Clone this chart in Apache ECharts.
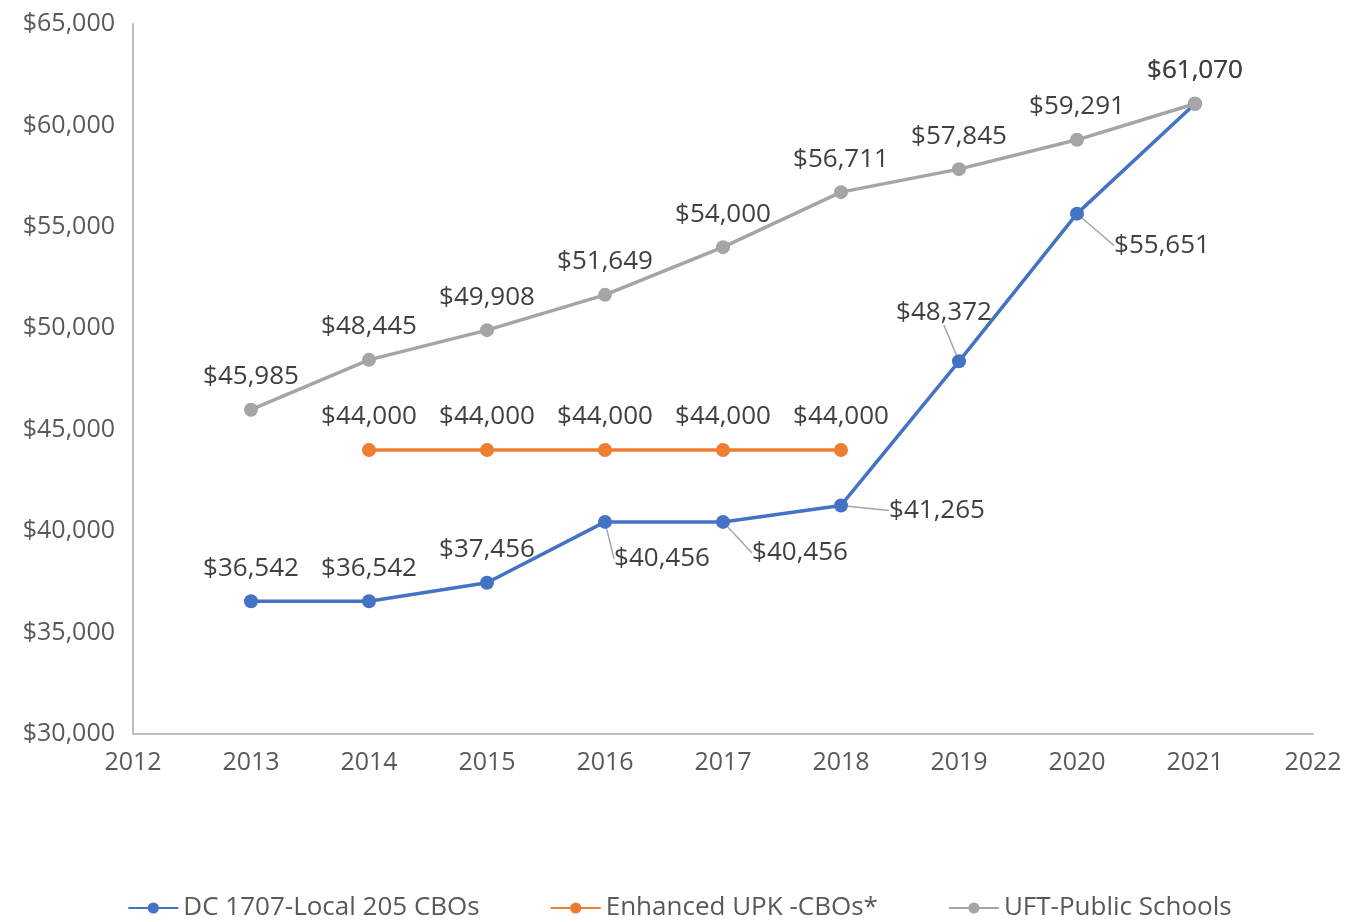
<!DOCTYPE html>
<html>
<head>
<meta charset="utf-8">
<script src="https://cdn.jsdelivr.net/npm/echarts@6/dist/echarts.min.js"></script>
<style>
  html, body { margin: 0; padding: 0; background: #fff; }
  #chart { width: 1359px; height: 922px; }
</style>
</head>
<body>
<div id="chart"></div>
<script>
// data
const years = [2013, 2014, 2015, 2016, 2017, 2018, 2019, 2020, 2021]
const dcLocal205 = [36542, 36542, 37456, 40456, 40456, 41265, 48372, 55651, 61070]
const upkYears = [2014, 2015, 2016, 2017, 2018]
const enhancedUpk = [44000, 44000, 44000, 44000, 44000]
const uftSchools = [45985, 48445, 49908, 51649, 54000, 56711, 57845, 59291, 61070]
const seriesNames = ['DC 1707-Local 205 CBOs', 'Enhanced UPK -CBOs*', 'UFT-Public Schools']

// where the blue labels were pushed off their points (px, from the "top" spot)
const blueLabelShift = {
  3: [57, 70],
  4: [77, 64],
  5: [96, 38],
  6: [-15, -16],
  7: [85, 65]
}

const fmt = v => '$' + v.toLocaleString('en-US')
const font = "'Open Sans', sans-serif"
const labelColor = '#404040'

const chart = echarts.init(document.getElementById('chart'))

const baseLabel = {
  show: true,
  position: 'top',
  distance: 13,
  fontFamily: font,
  fontSize: 26,
  color: labelColor,
  formatter: p => fmt(p.value[1])
}

function line(name, color, xs, ys) {
  return {
    name: name,
    type: 'line',
    data: xs.map((x, i) => [x, ys[i]]),
    symbol: 'circle',
    symbolSize: 14,
    lineStyle: { color: color, width: 3.5 },
    itemStyle: { color: color },
    label: baseLabel,
    emphasis: { disabled: true }
  }
}

const blue = line(seriesNames[0], '#4472C4', years, dcLocal205)
blue.labelLine = { show: false, lineStyle: { color: '#A6A6A6', width: 1.5 } }
blue.data = blue.data.map((d, i) => blueLabelShift[i]
  ? { value: d, labelLine: { show: true } }
  : { value: d })
blue.labelLayout = p => {
  const s = blueLabelShift[p.dataIndex]
  return s ? { dx: s[0], dy: s[1] } : {}
}

const orange = line(seriesNames[1], '#ED7D31', upkYears, enhancedUpk)
const gray = line(seriesNames[2], '#A5A5A5', years, uftSchools)

chart.setOption({
  animation: false,
  textStyle: { fontFamily: font },
  grid: { left: 133, right: 46, top: 24, bottom: 188 },
  legend: {
    bottom: -4,
    left: 'center',
    itemWidth: 50,
    itemHeight: 14,
    itemGap: 70,
    textStyle: { fontFamily: font, fontSize: 26, color: '#595959' },
    data: seriesNames
  },
  xAxis: {
    type: 'value',
    min: 2012,
    max: 2022,
    interval: 1,
    splitLine: { show: false },
    axisTick: { show: false },
    axisLine: { lineStyle: { color: '#BFBFBF', width: 2 } },
    axisLabel: {
      margin: 16,
      fontSize: 25,
      color: '#595959',
      fontFamily: font,
      formatter: v => String(v)
    }
  },
  yAxis: {
    type: 'value',
    min: 30000,
    max: 65000,
    interval: 5000,
    splitLine: { show: false },
    axisTick: { show: false },
    axisLine: { show: true, lineStyle: { color: '#BFBFBF', width: 2 } },
    axisLabel: {
      margin: 18,
      fontSize: 25,
      color: '#595959',
      fontFamily: font,
      formatter: v => fmt(v)
    }
  },
  series: [blue, orange, gray]
})
</script>
</body>
</html>
